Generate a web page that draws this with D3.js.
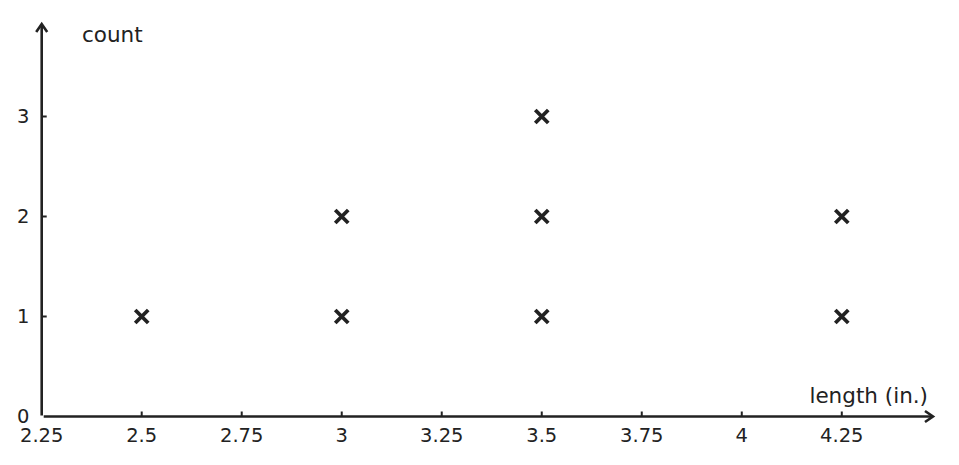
<!DOCTYPE html>
<html lang="en">
<head>
<meta charset="UTF-8">
<title>Dot plot of lengths</title>
<script src="https://d3js.org/d3.v7.min.js"></script>
<style>
    body { margin: 0; background: #fff; }
    svg { display: block; font-family: "DejaVu Sans", sans-serif; }
</style>
</head>
<body>
<svg id="chart" width="959" height="465"></svg>
<script>
    // measured lengths, one entry per X mark
    const lengths = [2.5, 3, 3, 3.5, 3.5, 3.5, 4.25, 4.25];
    const xTicks = [2.25, 2.5, 2.75, 3, 3.25, 3.5, 3.75, 4, 4.25];
    const xTickLabels = ["2.25", "2.5", "2.75", "3", "3.25", "3.5", "3.75", "4", "4.25"];
    const yTicks = [0, 1, 2, 3];

    const ink = "#222";
    const svg = d3.select("#chart");

    const x = d3.scaleLinear().domain([2.25, 4.478]).range([41.7, 933]);
    const y = d3.scaleLinear().domain([0, 3.925]).range([416.5, 24]);

    // stack repeated values into counts
    const seen = {};
    const points = lengths.map(v => {
        seen[v] = (seen[v] || 0) + 1;
        return { v: v, c: seen[v] };
    });

    // axes lines
    svg.append("line")
        .attr("x1", x(2.25)).attr("x2", x(2.25))
        .attr("y1", y(0) - 1).attr("y2", y.range()[1] + 1)
        .attr("stroke", ink).attr("stroke-width", 2.6);
    svg.append("line")
        .attr("x1", x(2.25) + 2).attr("x2", x.range()[1] - 1)
        .attr("y1", y(0)).attr("y2", y(0))
        .attr("stroke", ink).attr("stroke-width", 2.6);

    // arrow heads
    const yEnd = y.range()[1], xEnd = x.range()[1];
    svg.append("path")
        .attr("d", `M${x(2.25) - 5.5},${yEnd + 8} L${x(2.25)},${yEnd} L${x(2.25) + 5.5},${yEnd + 8}`)
        .attr("fill", "none").attr("stroke", ink).attr("stroke-width", 2.6)
        .attr("stroke-linejoin", "miter");
    svg.append("path")
        .attr("d", `M${xEnd - 8},${y(0) - 5.5} L${xEnd},${y(0)} L${xEnd - 8},${y(0) + 5.5}`)
        .attr("fill", "none").attr("stroke", ink).attr("stroke-width", 2.6)
        .attr("stroke-linejoin", "miter");

    // x ticks (point up)
    svg.selectAll(".xtick").data(xTicks.slice(1)).enter().append("line")
        .attr("x1", d => x(d)).attr("x2", d => x(d))
        .attr("y1", y(0)).attr("y2", y(0) - 5)
        .attr("stroke", ink).attr("stroke-width", 2);
    svg.selectAll(".xlab").data(xTicks).enter().append("text")
        .attr("x", d => x(d)).attr("y", y(0) + 25.5)
        .attr("text-anchor", "middle").attr("font-size", 19.5).attr("fill", ink)
        .text((d, i) => xTickLabels[i]);

    // y ticks (point right)
    svg.selectAll(".ytick").data(yTicks.slice(1)).enter().append("line")
        .attr("x1", x(2.25)).attr("x2", x(2.25) + 5)
        .attr("y1", d => y(d)).attr("y2", d => y(d))
        .attr("stroke", ink).attr("stroke-width", 2);
    svg.selectAll(".ylab").data(yTicks).enter().append("text")
        .attr("x", 29.5).attr("y", d => y(d) + 6.5)
        .attr("text-anchor", "end").attr("font-size", 19.5).attr("fill", ink)
        .text(d => d);

    // axis titles
    svg.append("text").attr("x", 82).attr("y", 42)
        .attr("font-size", 21.5).attr("fill", ink).text("count");
    svg.append("text").attr("x", 928).attr("y", 403)
        .attr("text-anchor", "end").attr("font-size", 21.5).attr("fill", ink)
        .text("length (in.)");

    // X marks
    const h = 6.5;
    svg.selectAll(".mark").data(points).enter().append("path")
        .attr("d", d => {
            const cx = x(d.v), cy = y(d.c);
            return `M${cx - h},${cy - h}L${cx + h},${cy + h}M${cx - h},${cy + h}L${cx + h},${cy - h}`;
        })
        .attr("stroke", ink).attr("stroke-width", 3.8).attr("fill", "none");
</script>
</body>
</html>
